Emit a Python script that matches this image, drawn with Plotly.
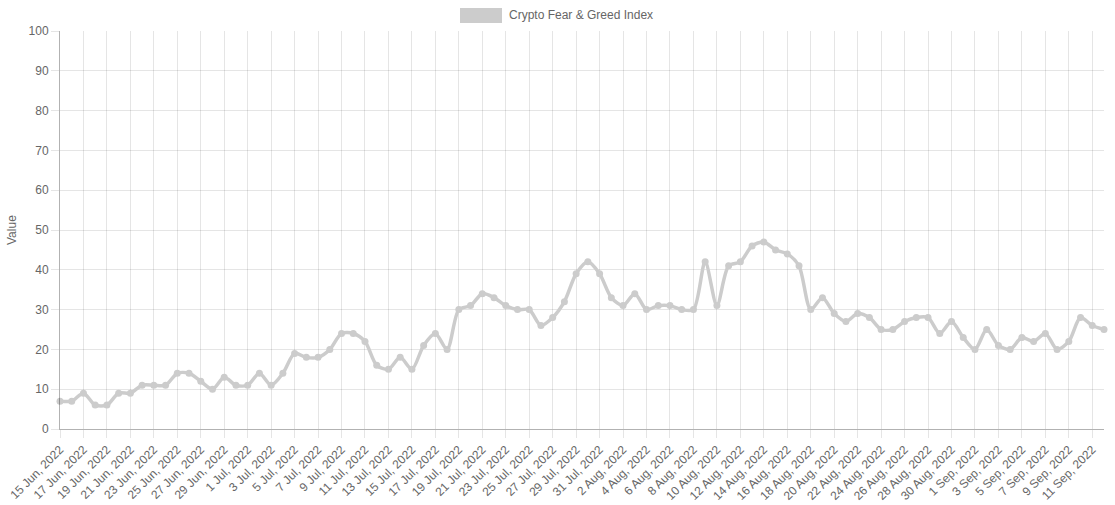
import pandas as pd
import plotly.graph_objects as go


START_DATE = "2022-06-15"
END_DATE = "2022-09-12"

# valores diarios del indice (15 jun -> 12 sep 2022)
index_values = [
    7, 7, 9, 6, 6, 9, 9, 11, 11, 11,
    14, 14, 12, 10, 13, 11, 11, 14, 11, 14,
    19, 18, 18, 20, 24, 24, 22, 16, 15, 18,
    15, 21, 24, 20, 30, 31, 34, 33, 31, 30,
    30, 26, 28, 32, 39, 42, 39, 33, 31, 34,
    30, 31, 31, 30, 30, 42, 31, 41, 42, 46,
    47, 45, 44, 41, 30, 33, 29, 27, 29, 28,
    25, 25, 27, 28, 28, 24, 27, 23, 20, 25,
    21, 20, 23, 22, 24, 20, 22, 28, 26, 25,
]
dates = pd.date_range(START_DATE, END_DATE, freq="D")

series_name = "Crypto Fear & Greed Index"
y_title = "Value"

FONT = "Liberation Sans, Arial, sans-serif"
TEXT_COLOR = "#666666"
LINE_COLOR = "#cccccc"
GRID_COLOR = "rgba(0,0,0,0.1)"
AXIS_COLOR = "rgba(0,0,0,0.3)"

# area del grafico en pixeles
PLOT_L, PLOT_R, PLOT_T, PLOT_B = 60, 1104, 31, 429
PLOT_W = PLOT_R - PLOT_L
PLOT_H = PLOT_B - PLOT_T


def build_figure():
    fig = go.Figure()

    fig.add_trace(go.Scatter(
        x=dates,
        y=index_values,
        mode="lines+markers",
        name=series_name,
        line=dict(color=LINE_COLOR, width=3.5, shape="spline", smoothing=0.8),
        marker=dict(color=LINE_COLOR, size=7),
        cliponaxis=False,
        showlegend=False,
    ))

    # leyenda estilo chart.js (caja + texto)
    fig.add_shape(
        type="rect", xref="paper", yref="paper",
        x0=(460 - PLOT_L) / PLOT_W, x1=(502 - PLOT_L) / PLOT_W,
        y0=(PLOT_B - 23) / PLOT_H, y1=(PLOT_B - 8) / PLOT_H,
        fillcolor=LINE_COLOR, line=dict(width=0),
    )
    fig.add_annotation(
        text=series_name, xref="paper", yref="paper",
        x=(507 - PLOT_L) / PLOT_W, y=(PLOT_B - 15) / PLOT_H,
        xanchor="left", yanchor="middle", showarrow=False,
        font=dict(family=FONT, size=12, color=TEXT_COLOR),
    )

    # titulo del eje y
    fig.add_annotation(
        text=y_title, xref="paper", yref="paper",
        x=(12 - PLOT_L) / PLOT_W, y=0.5,
        xanchor="center", yanchor="middle", textangle=-90, showarrow=False,
        font=dict(family=FONT, size=12, color=TEXT_COLOR),
    )

    fig.update_layout(
        width=1115,
        height=505,
        margin=dict(l=PLOT_L, r=1115 - PLOT_R, t=PLOT_T, b=505 - PLOT_B),
        paper_bgcolor="white",
        plot_bgcolor="white",
        font=dict(family=FONT, size=12, color=TEXT_COLOR),
        showlegend=False,
        xaxis=dict(
            range=[dates[0], dates[-1]],
            tick0=dates[0],
            dtick=2 * 86400000,
            tickformat="%-d %b, %Y",
            tickangle=-45,
            automargin=False,
            showgrid=True,
            gridcolor=GRID_COLOR,
            ticks="outside",
            ticklen=8,
            tickcolor=GRID_COLOR,
            showline=True,
            linecolor=AXIS_COLOR,
            zeroline=False,
            fixedrange=True,
        ),
        yaxis=dict(
            range=[0, 100],
            dtick=10,
            automargin=False,
            showgrid=True,
            gridcolor=GRID_COLOR,
            ticks="outside",
            ticklen=8,
            tickcolor=GRID_COLOR,
            showline=True,
            linecolor=AXIS_COLOR,
            zeroline=False,
            fixedrange=True,
        ),
    )
    return fig


def main():
    fig = build_figure()
    # quitar el margen del body para que el grafico ocupe toda la ventana
    fig.write_html(
        "out.html",
        config={"displayModeBar": False},
        post_script="document.body.style.margin='0';document.body.style.overflow='hidden';",
    )


if __name__ == "__main__":
    main()
